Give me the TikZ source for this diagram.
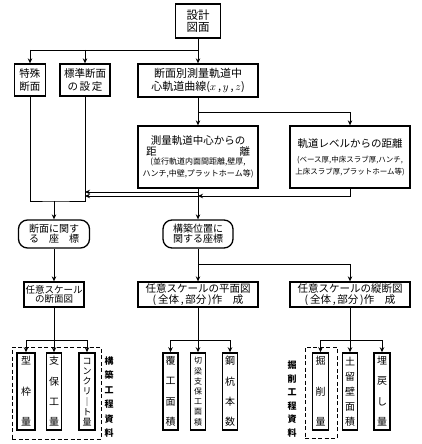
\documentclass[tikz,border=0pt]{standalone}
\usepackage{fontspec}
\setmainfont{Noto Sans CJK JP}
\usetikzlibrary{arrows.meta}
\newcommand\fs[1]{\fontsize{#1}{#1}\selectfont}
\newcommand\leafnode[6]{%
  \node[leafbox, minimum width=#3pt] (#1) at (#2,391.5) {};
  \foreach \chr [count=\i] in {#6}
    \node[font=\fs{#5}, inner sep=0pt] at (#2, {361+(\i-1)*61/(#4-1)}) {\chr};
}
\newcommand\vlabel[5]{% name, x, ytop, ybot, list (6 chars)
  \coordinate (#1) at (#2,#3);
  \foreach \chr [count=\i] in {#5}
    \node[font=\fs{9}\bfseries, inner sep=0pt] at (#2, {#3+(\i-1)*(#4-#3)/5}) {\chr};
}
\tikzset{
  box/.style={draw, line width=1.3pt, inner sep=0pt, align=center, font=\fs{10.5}},
  rbox/.style={box, rounded corners=9pt},
  leafbox/.style={draw, line width=1.5pt, inner sep=0pt, minimum height=77pt},
  grpbox/.style={draw, line width=1pt, dash pattern=on 4pt off 2.5pt, inner sep=0pt},
  conn/.style={line width=0.9pt},
  arr/.style={conn, -{Stealth[length=5pt,width=4.5pt]}},
}
\begin{document}
\begin{tikzpicture}[x=1pt,y=-1pt]
\useasboundingbox (0,0) rectangle (422,444);
% main boxes
\node[box, minimum width=45pt, minimum height=34pt, font=\fs{11.5}] (top) at (198,21) {設計\\[1pt]図面};
\node[box, minimum width=31pt, minimum height=32pt] (tok) at (30,80) {特殊\\[2pt]断面};
\node[box, minimum width=50pt, minimum height=32pt] (hyo) at (85,80) {標準断面\\[2pt]の\,設\,定};
\node[box, minimum width=120pt, minimum height=33pt, font=\fs{11}] (dan) at (198,80.5)
  {断面別測量軌道中\\[2pt]心軌道曲線($x$\,,\,$y$\,,\,$z$)};
\node[box, minimum width=120pt, minimum height=62pt, font=\fs{10.5}] (soku) at (198,157)
  {測量軌道中心からの\\\makebox[104pt]{距\hfill 離}\\[-1pt]
   {\fs{8}(並行軌道内面間距離,壁厚,}\\[1pt]{\fs{8}ハンチ,中壁,プラットホーム等)}};
\node[box, minimum width=120pt, minimum height=62pt, font=\fs{10.5}] (kid) at (350,157)
  {軌道レベルからの距離\\[5pt]
   {\fs{7.5}(ベース厚,中床スラブ厚,ハンチ,}\\[1pt]{\fs{7.5}上床スラブ厚,プラットホーム等)}};
\node[rbox, minimum width=71pt, minimum height=28pt, font=\fs{10}] (zahyo1) at (54,234) {断面に関す\\る\quad 座\quad 標};
\node[rbox, minimum width=70pt, minimum height=28pt, font=\fs{10}] (zahyo2) at (198,234) {構築位置に\\関する座標};
\node[box, minimum width=60pt, minimum height=25pt, font=\fs{9.5}] (zu1) at (54,294.5) {任意スケール\\の断面図};
\node[box, minimum width=120pt, minimum height=25pt, font=\fs{10.5}] (zu2) at (198,294.5) {任意スケールの平面図\\(\,全体\,,\,部分\,)作\quad 成};
\node[box, minimum width=120pt, minimum height=25pt, font=\fs{10.5}] (zu3) at (350,294.5) {任意スケールの縦断図\\(\,全体\,,\,部分\,)作\quad 成};
% leaves
\leafnode{l1}{26}{18}{3}{10}{型,枠,量}
\leafnode{l2}{54}{15}{4}{10}{支,保,工,量}
\leafnode{l3}{87}{16}{7}{9}{コ,ン,ク,リ,｜,ト,量}
\leafnode{m1}{170.5}{15}{4}{10}{覆,工,面,積}
\leafnode{m2}{198}{15}{7}{8}{切,梁,支,保,工,面,積}
\leafnode{m3}{230}{15}{4}{10}{鋼,杭,本,数}
\leafnode{r1}{320.5}{16}{3}{10}{掘,削,量}
\leafnode{r2}{350}{15}{5}{10}{土,留,壁,面,積}
\leafnode{r3}{382}{16}{4}{10}{埋,戻,し,量}
% dashed groups and labels
\node[grpbox, minimum width=89pt, minimum height=92pt] (g1) at (56.5,393) {};
\node[grpbox, minimum width=32pt, minimum height=91pt] (g2) at (321,392.5) {};
\vlabel{lab1}{109}{361}{433}{構,築,工,程,資,料}
\vlabel{lab2}{292}{365}{433}{掘,削,工,程,資,料}
% junction coordinates
\coordinate (j1) at (198,50);
\coordinate (j1l) at (30,50);
\coordinate (j2) at (198,112);
\coordinate (u) at (54,201);
\coordinate (a1) at (198,192);
\coordinate (a2) at (198,196);
\coordinate (j3) at (198,264);
\coordinate (b1) at (54,340);
\coordinate (b2) at (198,340);
\coordinate (b3) at (350,340);
% connectors top
\draw[conn] (top) -- (j1);
\draw[conn] (j1l) -- (j1);
\draw[arr] (j1l) -- (tok);
\draw[arr] (hyo |- j1) -- (hyo.north);
\draw[arr] (j1) -- (dan);
\draw[conn] (dan) -- (j2);
\draw[conn] (j2) -- (kid |- j2);
\draw[arr] (j2) -- (soku);
\draw[arr] (kid |- j2) -- (kid);
% U collector
\draw[conn] (tok.south) |- (u) -| (hyo.south);
\draw[arr] (u) -- (zahyo1);
\draw[arr] (soku) -- (zahyo2);
\draw[arr] (a1) -- (hyo.south |- a1);
\draw[arr] (kid.south) |- (a2);
\draw[arr] (a2) -- (hyo.south |- a2);
% lower
\draw[arr] (zahyo1) -- (zu1);
\draw[conn] (zahyo2) -- (j3);
\draw[conn] (j3) -- (zu3 |- j3);
\draw[arr] (j3) -- (zu2);
\draw[arr] (zu3 |- j3) -- (zu3);
% branches to leaves
\draw[conn] (zu1) -- (b1);
\draw[conn] (l1 |- b1) -- (l3 |- b1);
\foreach \n in {l1,l2,l3} \draw[arr] (\n |- b1) -- (\n.north);
\draw[conn] (zu2) -- (b2);
\draw[conn] (m1 |- b2) -- (m3 |- b2);
\foreach \n in {m1,m2,m3} \draw[arr] (\n |- b2) -- (\n.north);
\draw[conn] (zu3) -- (b3);
\draw[conn] (r1 |- b3) -- (r3 |- b3);
\foreach \n in {r1,r2,r3} \draw[arr] (\n |- b3) -- (\n.north);
\end{tikzpicture}
\end{document}
